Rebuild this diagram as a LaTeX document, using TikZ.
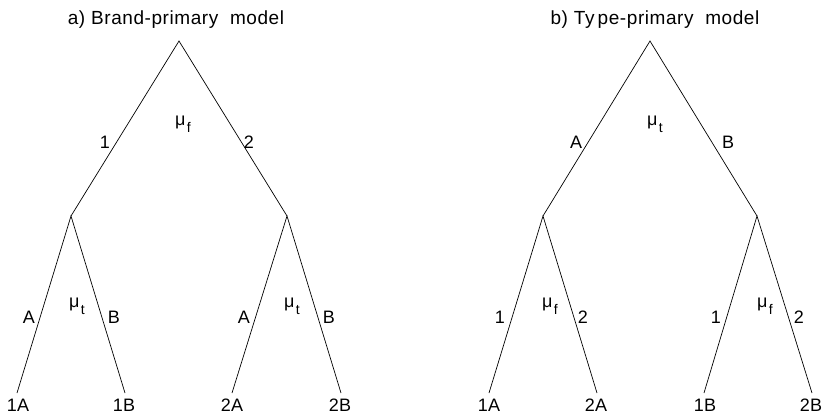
\documentclass[tikz,border=0pt]{standalone}
\usepackage{fontspec}
\setmainfont{Liberation Sans}
\begin{document}
\begin{tikzpicture}[x=1pt,y=-1pt,
  edge/.style={draw=black,line width=0.7pt},
  lbl/.style={inner sep=0pt,anchor=center,font=\fontsize{18}{21}\selectfont\addfontfeature{LetterSpace=2}},
  ttl/.style={inner sep=0pt,anchor=center,font=\fontsize{19}{22}\selectfont\addfontfeature{LetterSpace=3}},
  mulbl/.style={inner sep=0pt,anchor=center,font=\fontsize{18}{21}\selectfont}]
\useasboundingbox (0,0) rectangle (823,415);
\newcommand{\musub}[1]{μ\hspace{1.5pt}\raisebox{-7pt}{\fontsize{14}{14}\selectfont #1}}
% ---- left tree
\node[ttl] (ta) at (176,20) {a) Brand-primary\ \ model};
\coordinate (r1) at (179,41);
\coordinate (n1) at (71,216);
\coordinate (n2) at (287,216);
\coordinate (l1) at (17,393);
\coordinate (l2) at (125,393);
\coordinate (l3) at (232,393);
\coordinate (l4) at (341,393);
\draw[edge] (n1) -- (r1) -- (n2);
\draw[edge] (l1) -- (n1) -- (l2);
\draw[edge] (l3) -- (n2) -- (l4);
\node[lbl] (a1) at (105,142) {1};
\node[lbl] (a2) at (249,142) {2};
\node[mulbl] (am) at (183,124) {\musub{f}};
\node[lbl] (aA1) at (29,317) {A};
\node[lbl] (aB1) at (114,317) {B};
\node[mulbl] (am1) at (77,306) {\musub{t}};
\node[lbl] (aA2) at (244,317) {A};
\node[lbl] (aB2) at (329,317) {B};
\node[mulbl] (am2) at (292,306) {\musub{t}};
\node[lbl] (la1) at (18,405) {1A};
\node[lbl] (la2) at (124,405) {1B};
\node[lbl] (la3) at (232,405) {2A};
\node[lbl] (la4) at (340,405) {2B};
% ---- right tree
\node[ttl] (tb) at (655,20) {b) Ty\,pe-primary\ \ model};
\coordinate (r2) at (650,41);
\coordinate (m1) at (543,216);
\coordinate (m2) at (757,216);
\coordinate (k1) at (489,393);
\coordinate (k2) at (597,393);
\coordinate (k3) at (704,393);
\coordinate (k4) at (812,393);
\draw[edge] (m1) -- (r2) -- (m2);
\draw[edge] (k1) -- (m1) -- (k2);
\draw[edge] (k3) -- (m2) -- (k4);
\node[lbl] (bA) at (576,142) {A};
\node[lbl] (bB) at (728,142) {B};
\node[mulbl] (bm) at (655,124) {\musub{t}};
\node[lbl] (b11) at (500,317) {1};
\node[lbl] (b21) at (583,317) {2};
\node[mulbl] (bm1) at (550,306) {\musub{f}};
\node[lbl] (b12) at (716,317) {1};
\node[lbl] (b22) at (799,317) {2};
\node[mulbl] (bm2) at (765,306) {\musub{f}};
\node[lbl] (lb1) at (489,405) {1A};
\node[lbl] (lb2) at (596,405) {2A};
\node[lbl] (lb3) at (705,405) {1B};
\node[lbl] (lb4) at (811,405) {2B};
\end{tikzpicture}
\end{document}
